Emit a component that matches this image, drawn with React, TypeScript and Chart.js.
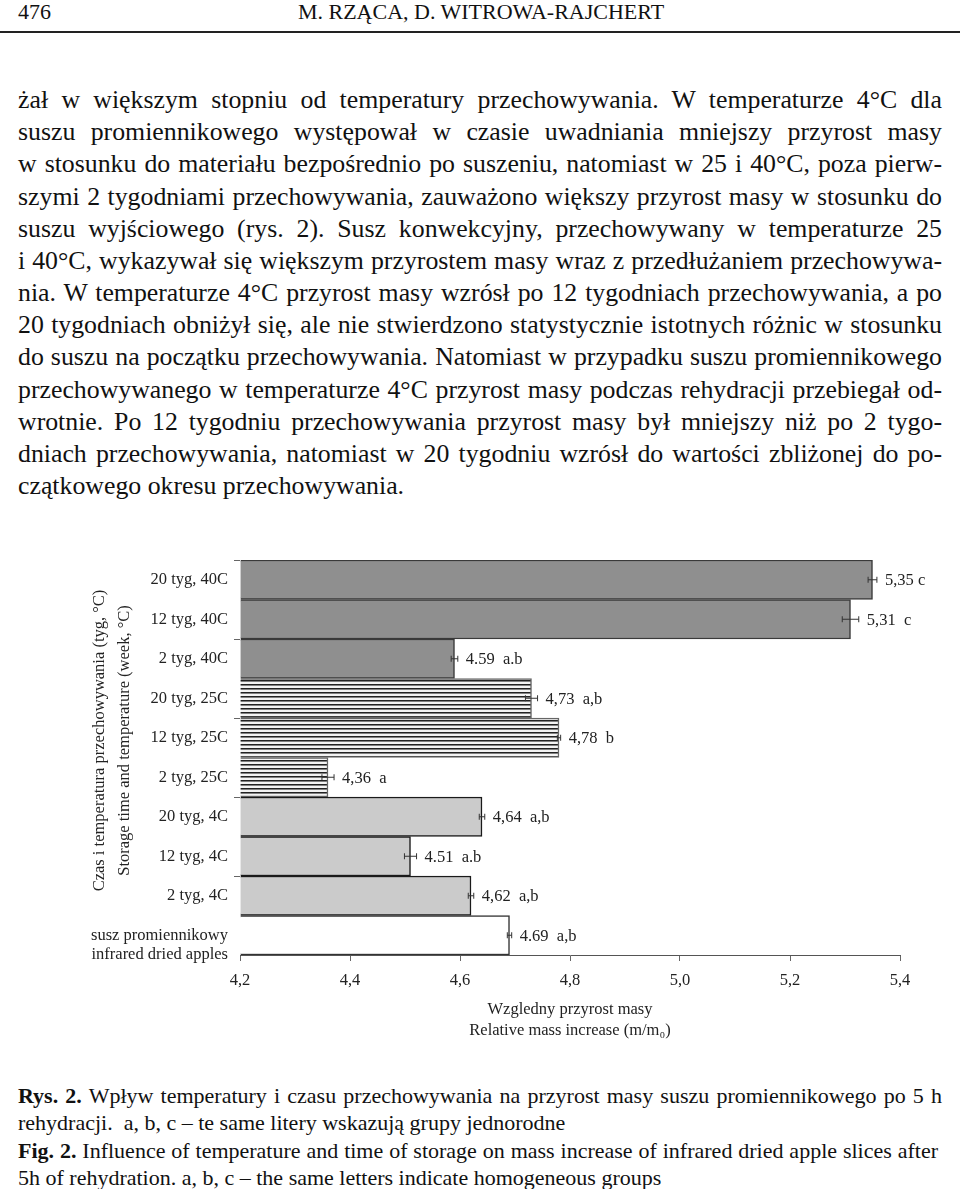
import React, { useEffect, useRef } from "react";
import { Chart, registerables } from "chart.js";

Chart.register(...registerables);

// ---------- data ----------
const categories: (string | string[])[] = [
  "20 tyg, 40C",
  "12 tyg, 40C",
  "2 tyg, 40C",
  "20 tyg, 25C",
  "12 tyg, 25C",
  "2 tyg, 25C",
  "20 tyg, 4C",
  "12 tyg, 4C",
  "2 tyg, 4C",
  ["", "susz promiennikowy", "infrared dried apples"],
];
const values = [5.35, 5.31, 4.59, 4.73, 4.78, 4.36, 4.64, 4.51, 4.62, 4.69];
const errors = [0.008, 0.015, 0.006, 0.011, 0.003, 0.011, 0.005, 0.011, 0.005, 0.004];
const valueLabels = [
  "5,35 c",
  "5,31  c",
  "4.59  a.b",
  "4,73  a,b",
  "4,78  b",
  "4,36  a",
  "4,64  a,b",
  "4.51  a.b",
  "4,62  a,b",
  "4.69  a,b",
];
const groups = ["40", "40", "40", "25", "25", "25", "4", "4", "4", "0"];
const xTickLabels = ["4,2", "4,4", "4,6", "4,8", "5,0", "5,2", "5,4"];
const yTitle = [
  "Czas i temperatura przechowywania (tyg, °C)",
  "Storage time and temperature (week, °C)",
];
const xTitle = ["Wzgledny przyrost masy", "Relative mass increase (m/m\u2080)"];

const bodyLines = [
  "żał w większym stopniu od temperatury przechowywania. W temperaturze 4°C dla",
  "suszu promiennikowego występował w czasie uwadniania mniejszy przyrost masy",
  "w stosunku do materiału bezpośrednio po suszeniu, natomiast w 25 i 40°C, poza pierw-",
  "szymi 2 tygodniami przechowywania, zauważono większy przyrost masy w stosunku do",
  "suszu wyjściowego (rys. 2). Susz konwekcyjny, przechowywany w temperaturze 25",
  "i 40°C, wykazywał się większym przyrostem masy wraz z przedłużaniem przechowywa-",
  "nia. W temperaturze 4°C przyrost masy wzrósł po 12 tygodniach przechowywania, a po",
  "20 tygodniach obniżył się, ale nie stwierdzono statystycznie istotnych różnic w stosunku",
  "do suszu na początku przechowywania. Natomiast w przypadku suszu promiennikowego",
  "przechowywanego w temperaturze 4°C przyrost masy podczas rehydracji przebiegał od-",
  "wrotnie. Po 12 tygodniu przechowywania przyrost masy był mniejszy niż po 2 tygo-",
  "dniach przechowywania, natomiast w 20 tygodniu wzrósł do wartości zbliżonej do po-",
  "czątkowego okresu przechowywania.",
];

const FONT = '"Liberation Serif", "Times New Roman", serif';
const CHART_FS = 16.5;

function makeStripePattern(): CanvasPattern | string {
  const c = document.createElement("canvas");
  c.width = 8;
  c.height = 4;
  const g = c.getContext("2d");
  if (!g) return "#bbbbbb";
  g.fillStyle = "#f3f3f3";
  g.fillRect(0, 0, 8, 4);
  g.fillStyle = "#222222";
  g.fillRect(0, 0, 8, 1);
  g.fillStyle = "#808080";
  g.fillRect(0, 1, 8, 1);
  const p = g.createPattern(c, "repeat");
  return p || "#bbbbbb";
}

const annotPlugin = {
  id: "annot",
  afterDatasetsDraw(chart: any) {
    const ctx = chart.ctx as CanvasRenderingContext2D;
    const meta = chart.getDatasetMeta(0);
    const xs = chart.scales.x;
    ctx.save();
    meta.data.forEach((bar: any, i: number) => {
      const y = bar.y;
      const lo = xs.getPixelForValue(values[i] - errors[i]);
      const hi = xs.getPixelForValue(values[i] + errors[i]);
      ctx.strokeStyle = "#333";
      ctx.lineWidth = 1;
      ctx.beginPath();
      ctx.moveTo(lo, y);
      ctx.lineTo(hi, y);
      ctx.moveTo(lo, y - 3);
      ctx.lineTo(lo, y + 3);
      ctx.moveTo(hi, y - 3);
      ctx.lineTo(hi, y + 3);
      ctx.stroke();
      ctx.fillStyle = "#222";
      ctx.font = `${CHART_FS}px ${FONT}`;
      ctx.textBaseline = "middle";
      ctx.textAlign = "left";
      ctx.fillText(valueLabels[i], hi + 8, y + 1);
    });
    const a = chart.chartArea;
    const cy = (a.top + a.bottom) / 2 - 17;
    ctx.fillStyle = "#222";
    ctx.font = `${CHART_FS}px ${FONT}`;
    ctx.textAlign = "center";
    ctx.textBaseline = "middle";
    yTitle.forEach((t, i) => {
      ctx.save();
      ctx.translate(a.left - 140 + i * 25, cy);
      ctx.rotate(-Math.PI / 2);
      ctx.fillText(t, 0, 0);
      ctx.restore();
    });
    ctx.restore();
  },
};

function BarChart() {
  const ref = useRef<HTMLCanvasElement | null>(null);
  useEffect(() => {
    if (!ref.current) return;
    const stripes = makeStripePattern();
    const bg = groups.map((g) =>
      g === "40" ? "#8f8f8f" : g === "25" ? stripes : g === "4" ? "#cbcbcb" : "#ffffff"
    );
    const bc = groups.map((g) =>
      g === "40" ? "#3a3a3a" : g === "25" ? "#666666" : g === "4" ? "#1a1a1a" : "#333333"
    );
    const chart = new Chart(ref.current, {
      type: "bar",
      data: {
        labels: categories as any,
        datasets: [
          {
            data: values,
            base: 4.2,
            backgroundColor: bg as any,
            borderColor: bc,
            borderWidth: 1.5,
            barPercentage: 1,
            categoryPercentage: 1,
          } as any,
        ],
      },
      options: {
        indexAxis: "y",
        animation: false,
        responsive: false,
        devicePixelRatio: 1,
        layout: { padding: { left: 0, right: 60, top: 20, bottom: 0 } },
        plugins: {
          legend: { display: false },
          tooltip: { enabled: false },
        },
        scales: {
          x: {
            type: "linear",
            min: 4.2,
            max: 5.4,
            afterFit: (s: any) => {
              s.height = 95;
            },
            ticks: {
              stepSize: 0.2,
              padding: 10,
              color: "#222",
              font: { family: FONT, size: CHART_FS, lineHeight: 1.2 },
              callback: (_v: any, i: number) => xTickLabels[i],
            },
            grid: {
              drawOnChartArea: false,
              drawTicks: true,
              tickLength: 6,
              color: "#666",
            },
            border: { display: true, color: "#555", width: 1 },
            title: {
              display: true,
              text: xTitle,
              color: "#222",
              font: { family: FONT, size: CHART_FS, lineHeight: 1.25 },
              padding: { top: 0, bottom: 9 },
            },
          },
          y: {
            type: "category",
            afterFit: (s: any) => {
              s.width = 240;
              s.paddingTop = 0;
              s.paddingBottom = 0;
            },
            ticks: {
              autoSkip: false,
              padding: 6,
              color: "#222",
              font: { family: FONT, size: CHART_FS, lineHeight: 1.15 },
            },
            grid: {
              offset: true,
              drawOnChartArea: false,
              drawTicks: true,
              tickLength: 6,
              color: (c: any) => (c.index % 2 === 0 ? "#666" : "rgba(0,0,0,0)"),
            },
            border: { display: false },
          },
        },
      } as any,
      plugins: [annotPlugin],
    });
    return () => chart.destroy();
  }, []);
  return (
    <canvas
      ref={ref}
      width={960}
      height={510}
      style={{ position: "absolute", left: 0, top: 540, width: 960, height: 510 }}
    />
  );
}

export default function App() {
  const bodySize = 25.8;
  const bodyStep = 32.17;
  const bodyLH = 32;
  const capSize = 22;
  const capLH = 27;
  const capCenters = [1095, 1122, 1150, 1177];
  const lineStyle = (
    top: number,
    lh: number,
    size: number,
    justify: boolean,
    width = 924
  ): React.CSSProperties =>
    ({
      position: "absolute",
      left: 18,
      width,
      top,
      height: lh,
      lineHeight: `${lh}px`,
      fontSize: size,
      whiteSpace: "nowrap",
      textAlign: justify ? "justify" : "left",
      textAlignLast: justify ? "justify" : "left",
    } as React.CSSProperties);
  return (
    <div
      style={{
        position: "absolute",
        left: 0,
        top: 0,
        width: 960,
        height: 1189,
        background: "#ffffff",
        color: "#111",
        fontFamily: FONT,
        overflow: "hidden",
      }}
    >
      <div style={{ position: "absolute", left: 18, top: 0, height: 24, lineHeight: "24px", fontSize: 22 }}>476</div>
      <div
        style={{
          position: "absolute",
          left: 0,
          width: 962,
          top: 0,
          height: 24,
          lineHeight: "24px",
          fontSize: 22,
          textAlign: "center",
        }}
      >
        M. RZĄCA, D. WITROWA-RAJCHERT
      </div>
      <div style={{ position: "absolute", left: 0, width: 960, top: 31, height: 2, background: "#222" }} />
      {bodyLines.map((t, i) => (
        <div key={i} style={lineStyle(100 + bodyStep * i - bodyLH / 2, bodyLH, bodySize, i < bodyLines.length - 1)}>
          {t}
        </div>
      ))}
      <BarChart />
      <div style={lineStyle(capCenters[0] - capLH / 2, capLH, capSize, true)}>
        <b>Rys. 2.</b> Wpływ temperatury i czasu przechowywania na przyrost masy suszu promiennikowego po 5 h
      </div>
      <div style={lineStyle(capCenters[1] - capLH / 2, capLH, capSize, false)}>
        rehydracji.&nbsp; a, b, c – te same litery wskazują grupy jednorodne
      </div>
      <div style={lineStyle(capCenters[2] - capLH / 2, capLH, capSize, true, 920)}>
        <b>Fig. 2.</b> Influence of temperature and time of storage on mass increase of infrared dried apple slices after
      </div>
      <div style={lineStyle(capCenters[3] - capLH / 2, capLH, capSize, false)}>
        5h of rehydration. a, b, c – the same letters indicate homogeneous groups
      </div>
    </div>
  );
}
